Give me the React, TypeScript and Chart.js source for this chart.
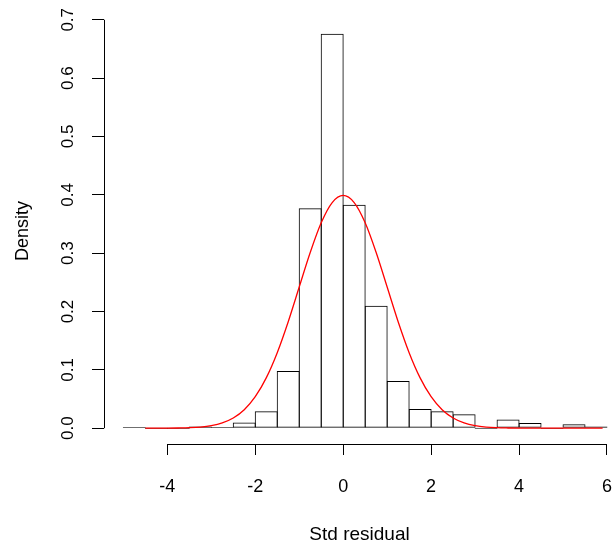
import React, { useEffect, useRef } from "react";
import { Chart, registerables } from "chart.js";

Chart.register(...registerables);

// Histogram bins (centres of 0.5-wide bins from -5 to 6) and densities
const binCenters = [
  -4.75, -4.25, -3.75, -3.25, -2.75, -2.25, -1.75, -1.25, -0.75, -0.25,
  0.25, 0.75, 1.25, 1.75, 2.25, 2.75, 3.25, 3.75, 4.25, 4.75, 5.25, 5.75,
];
const densities = [
  0.002, 0, 0, 0.003, 0.002, 0.01, 0.029, 0.098, 0.377, 0.676,
  0.383, 0.21, 0.081, 0.033, 0.029, 0.024, 0, 0.015, 0.009, 0, 0.007, 0.003,
];

// Red normal density curve
const curveX = [
  -4.5, -4, -3.75, -3.5, -3.25, -3, -2.75, -2.5, -2.25, -2, -1.75, -1.5, -1.25, -1,
  -0.75, -0.5, -0.25, 0, 0.25, 0.5, 0.75, 1, 1.25, 1.5, 1.75, 2, 2.25, 2.5,
  2.75, 3, 3.25, 3.5, 3.75, 4, 4.5, 5.9,
];
const curveY = [
  0.0, 0.0001, 0.0004, 0.0009, 0.002, 0.0044, 0.0091, 0.0175, 0.0317, 0.054,
  0.0863, 0.1295, 0.1826, 0.242, 0.3011, 0.3521, 0.3867, 0.3989, 0.3867,
  0.3521, 0.3011, 0.242, 0.1826, 0.1295, 0.0863, 0.054, 0.0317, 0.0175,
  0.0091, 0.0044, 0.002, 0.0009, 0.0004, 0.0001, 0.0, 0.0,
];

const xTicks = [-4, -2, 0, 2, 4, 6];
const yTicks = [0, 0.1, 0.2, 0.3, 0.4, 0.5, 0.6, 0.7];

const xTitle = "Std residual";
const yTitle = "Density";

const FONT = "'Liberation Sans', Arial, sans-serif";

const rAxesPlugin = {
  id: "rAxes",
  afterDraw(chart: any) {
    const { ctx, chartArea } = chart;
    const xs = chart.scales.x;
    const ys = chart.scales.y;
    ctx.save();
    ctx.strokeStyle = "#000";
    ctx.lineWidth = 1;
    ctx.beginPath();
    const yb = Math.round(chartArea.bottom) + 0.5;
    ctx.moveTo(xs.getPixelForValue(xTicks[0]), yb);
    ctx.lineTo(xs.getPixelForValue(xTicks[xTicks.length - 1]), yb);
    const xl = Math.round(chartArea.left) + 0.5;
    ctx.moveTo(xl, ys.getPixelForValue(yTicks[0]));
    ctx.lineTo(xl, ys.getPixelForValue(yTicks[yTicks.length - 1]));
    ctx.stroke();
    ctx.restore();
  },
};

export default function App() {
  const ref = useRef<HTMLCanvasElement | null>(null);

  useEffect(() => {
    if (!ref.current) return;
    const chart = new Chart(ref.current, {
      type: "bar",
      data: {
        datasets: [
          {
            type: "line",
            label: "normal",
            data: curveX.map((x, i) => ({ x, y: curveY[i] })),
            borderColor: "#ff0000",
            borderWidth: 1.3,
            pointRadius: 0,
            cubicInterpolationMode: "monotone",
            order: 0,
          } as any,
          {
            type: "bar",
            label: "hist",
            data: binCenters.map((x, i) => ({ x, y: densities[i] })),
            backgroundColor: "rgba(0,0,0,0)",
            borderColor: "#000",
            borderWidth: 1,
            borderSkipped: false,
            minBarLength: 1,
            barPercentage: 23 / 22,
            categoryPercentage: 1,
            order: 1,
          } as any,
        ],
      },
      options: {
        responsive: false,
        animation: false,
        devicePixelRatio: 1,
        layout: { padding: { top: 18, right: 0, left: 0, bottom: 0 } },
        plugins: {
          legend: { display: false },
          tooltip: { enabled: false },
        },
        scales: {
          x: {
            type: "linear",
            min: -5.44,
            max: 6.182,
            offset: false,
            afterBuildTicks: (s: any) => {
              s.ticks = xTicks.map((value) => ({ value }));
            },
            afterFit: (s: any) => {
              s.height = 107;
              s.paddingLeft = 0;
              s.paddingRight = 0;
            },
            border: { display: false },
            grid: {
              offset: false,
              drawOnChartArea: false,
              drawTicks: true,
              tickLength: 11,
              color: "#000",
              lineWidth: 1,
            },
            ticks: {
              color: "#000",
              font: { family: FONT, size: 18 },
              padding: 21,
              maxRotation: 0,
              minRotation: 0,
              callback: (v: any) => String(v),
            },
            title: {
              display: true,
              text: xTitle,
              color: "#000",
              font: { family: FONT, size: 19 },
              padding: { top: 0, bottom: 5 },
            },
          },
          y: {
            type: "linear",
            min: -0.02705,
            max: 0.70305,
            afterBuildTicks: (s: any) => {
              s.ticks = yTicks.map((value) => ({ value }));
            },
            afterFit: (s: any) => {
              s.width = 104;
              s.paddingTop = 0;
              s.paddingBottom = 0;
            },
            border: { display: false },
            grid: {
              offset: false,
              drawOnChartArea: false,
              drawTicks: true,
              tickLength: 12,
              color: "#000",
              lineWidth: 1,
            },
            ticks: {
              color: "#000",
              font: { family: FONT, size: 17 },
              padding: 12,
              minRotation: 90,
              maxRotation: 90,
              crossAlign: "center",
              callback: (v: any) => Number(v).toFixed(1),
            },
            title: {
              display: true,
              text: yTitle,
              color: "#000",
              font: { family: FONT, size: 18 },
              padding: { top: 12, bottom: 0 },
            },
          },
        },
      },
      plugins: [rAxesPlugin],
    });
    return () => chart.destroy();
  }, []);

  return (
    <div style={{ position: "absolute", left: 0, top: 0, width: 615, height: 551, background: "#fff" }}>
      <canvas ref={ref} width={615} height={551} style={{ width: 615, height: 551, display: "block" }} />
    </div>
  );
}
